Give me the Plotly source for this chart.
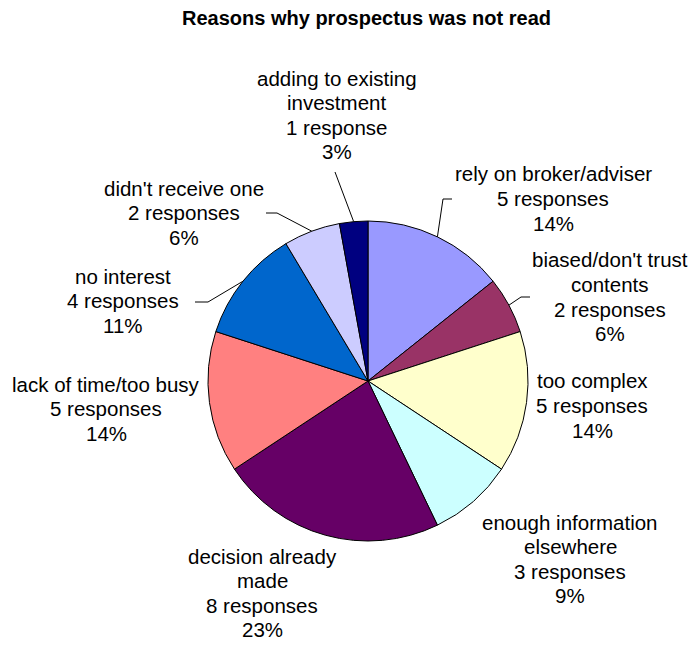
import math
import plotly.graph_objects as go

# ---- data ----
categories = ["rely on broker/adviser", "biased/don't trust\ncontents", "too complex",
              "enough information\nelsewhere", "decision already\nmade", "lack of time/too busy",
              "no interest", "didn't receive one", "adding to existing\ninvestment"]
responses = [5, 2, 5, 3, 8, 5, 4, 2, 1]
colors = ["#9999FF", "#993366", "#FFFFCC", "#CCFFFF", "#660066",
          "#FF8080", "#0066CC", "#CCCCFF", "#000080"]
title_text = "Reasons why prospectus was not read"

# ---- layout (reference-page pixels; the page body has an 8px margin) ----
OFF = 8
W, H = 696 - OFF, 645 - OFF
CX, CY, R = 368, 381, 160
FONT = "Liberation Sans, Arial, sans-serif"
LINE = 24.5
# label centre x and first-line centre y
label_pos = [(553, 174), (610, 260), (592, 381), (570, 522), (262, 556),
             (106, 384), (123, 276), (183.5, 188), (336.5, 78)]
# leader-line points on the label side (None = no leader)
leaders = [[(452, 199), (443, 199)], [(530, 297), (521, 297)], None, None, None,
           None, [(195, 302), (208, 302)], [(266, 213), (277, 213)], [(335, 172)]]

def px(x):
    return (x - OFF) / W

def py(y):
    return 1 - (y - OFF) / H

total = sum(responses)

fig = go.Figure(go.Pie(
    labels=[c.replace("\n", " ") for c in categories],
    values=responses,
    sort=False,
    direction="clockwise",
    rotation=0,
    marker=dict(colors=colors, line=dict(color="black", width=1)),
    textinfo="none",
    hoverinfo="label+value+percent",
    showlegend=False,
    domain=dict(x=[px(CX - R), px(CX + R)], y=[py(CY + R), py(CY - R)]),
))

annotations = []
shapes = []
cum = 0
for i, (cat, v) in enumerate(zip(categories, responses)):
    lines = cat.split("\n") + [f"{v} response" + ("" if v == 1 else "s"),
                               f"{round(v / total * 100)}%"]
    lx, ly = label_pos[i]
    for k, t in enumerate(lines):
        annotations.append(dict(
            x=px(lx), y=py(ly + k * LINE), xref="paper", yref="paper",
            text=t, showarrow=False, xanchor="center", yanchor="middle",
            font=dict(family=FONT, size=20.5, color="black")))
    mid = (cum + v / 2) / total * 2 * math.pi
    cum += v
    if leaders[i]:
        ex = CX + R * math.sin(mid)
        ey = CY - R * math.cos(mid)
        pts = leaders[i] + [(ex, ey)]
        path = "M " + " L ".join(f"{px(a)},{py(b)}" for a, b in pts)
        shapes.append(dict(type="path", path=path, xref="paper", yref="paper",
                           line=dict(color="black", width=1)))

annotations.append(dict(
    x=px(366.5), y=py(18), xref="paper", yref="paper", text=f"<b>{title_text}</b>",
    showarrow=False, xanchor="center", yanchor="middle",
    font=dict(family=FONT, size=20, color="black")))

fig.update_layout(
    width=W, height=H,
    margin=dict(l=0, r=0, t=0, b=0),
    paper_bgcolor="white", plot_bgcolor="white",
    annotations=annotations, shapes=shapes,
)

fig.write_html("out.html")
